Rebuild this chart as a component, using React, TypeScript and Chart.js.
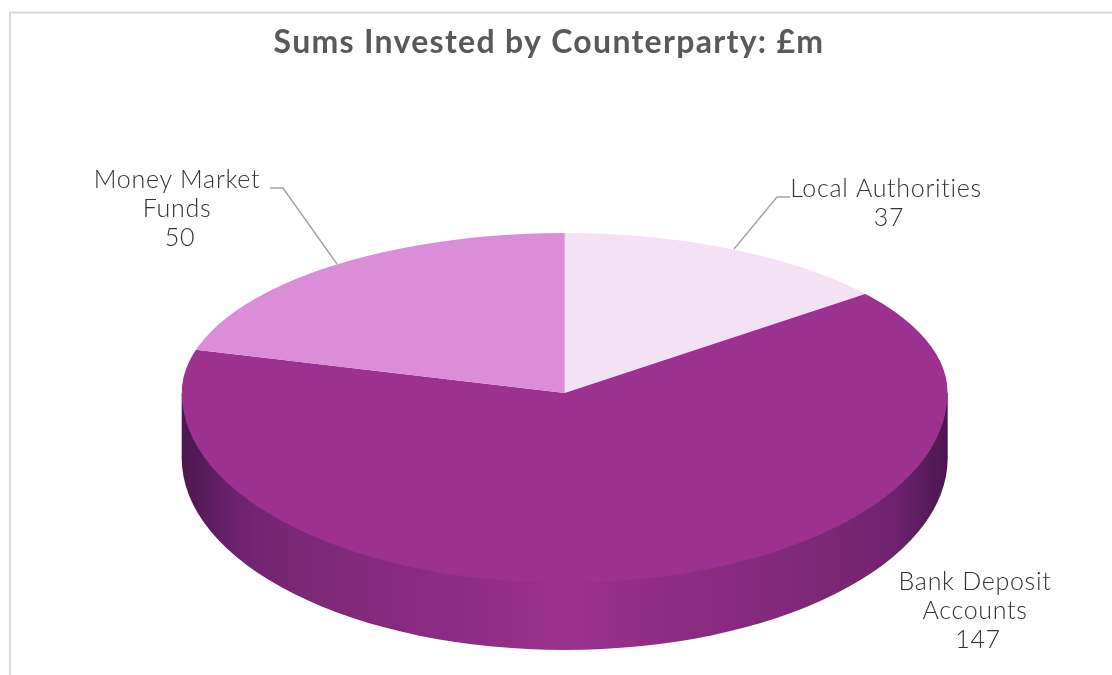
import React, { useEffect, useRef } from "react";
import { Chart, registerables } from "chart.js";

Chart.register(...registerables);

// Investment totals in £m, clockwise from twelve o'clock.
const categories = ["Local Authorities", "Bank Deposit Accounts", "Money Market Funds"];
const investedMillions = [37, 147, 50];
const sliceColours = ["#F5E1F4", "#9C3190", "#DC8DD8"];

// Category names as they wrap inside their labels.
const labelLines = [["Local Authorities"], ["Bank Deposit", "Accounts"], ["Money Market", "Funds"]];
const labelCentres = [
  { x: 886, y: 197 },
  { x: 975, y: 590 },
  { x: 177, y: 188 },
];
// Leader polylines; the bank slice label sits next to its slice and has none.
const leaders = [
  [[790, 197], [777, 197], [734, 249]],
  [],
  [[270, 188], [283, 188], [337, 264]],
];

const TITLE = "Sums Invested by Counterparty: £m";
const WIDTH = 1112;
const HEIGHT = 675;

// Disc projection: the far half of the rim is foreshortened against the near half.
const DISC = { cx: 564.7, cy: 393, rx: 383, farRy: 160, nearRy: 190, rayRy: 193.6, depth: 65, wallRy: 192 };

const wallStops: [number, string][] = [
  [0, "#4D1650"],
  [0.02, "#541A58"],
  [0.07, "#6E2270"],
  [0.115, "#752472"],
  [0.16, "#7C2877"],
  [0.29, "#882A80"],
  [0.42, "#932D89"],
  [0.5, "#9C3190"],
  [0.58, "#932D89"],
  [0.71, "#882A80"],
  [0.84, "#7C2877"],
  [0.885, "#752472"],
  [0.93, "#6E2270"],
  [0.98, "#541A58"],
  [1, "#4D1650"],
];

const bodyFont = "Lato";

const tiltedPie = {
  id: "tiltedPie",
  beforeDraw(chart: any) {
    const { ctx } = chart;
    // Chart frame: only its top and left edges fall inside the canvas.
    ctx.save();
    ctx.strokeStyle = "#D9D9D9";
    ctx.lineWidth = 2;
    ctx.beginPath();
    ctx.moveTo(10, HEIGHT);
    ctx.lineTo(10, 12.5);
    ctx.lineTo(WIDTH, 12.5);
    ctx.stroke();
    ctx.restore();
    // Tracking for the title, which the library draws next.
    ctx.letterSpacing = "1.3px";
  },
  beforeDatasetsDraw(chart: any) {
    const { ctx } = chart;
    ctx.letterSpacing = "0px";
    const { cx, cy, rx, farRy, nearRy, rayRy, depth, wallRy } = DISC;
    const left = cx - rx;
    const right = cx + rx;

    // Side wall of the disc, shaded from the rim towards the front. It runs on
    // under the top face so that no pale seam shows along the near rim.
    const shade = ctx.createLinearGradient(left, 0, right, 0);
    wallStops.forEach(([at, colour]) => shade.addColorStop(at, colour));
    ctx.save();
    ctx.fillStyle = shade;
    ctx.beginPath();
    ctx.moveTo(left, cy);
    ctx.lineTo(left, cy + depth);
    ctx.ellipse(cx, cy + depth, rx, wallRy, 0, Math.PI, 0, true);
    ctx.lineTo(right, cy);
    ctx.closePath();
    ctx.fill();
    ctx.restore();

    // Top face: the library's arcs are squashed into an ellipse and trimmed to the rim.
    const arc = chart.getDatasetMeta(0).data[0];
    const R = arc.outerRadius;
    ctx.save();
    ctx.beginPath();
    ctx.ellipse(cx, cy, rx, farRy, 0, Math.PI, 2 * Math.PI, false);
    ctx.ellipse(cx, cy, rx, nearRy, 0, 0, Math.PI, false);
    ctx.closePath();
    ctx.clip();
    ctx.translate(cx, cy);
    ctx.scale(rx / R, rayRy / R);
    ctx.translate(-arc.x, -arc.y);
  },
  afterDatasetsDraw(chart: any) {
    chart.ctx.restore();
  },
  afterDraw(chart: any) {
    const { ctx } = chart;
    ctx.save();
    ctx.strokeStyle = "#A6A6A6";
    ctx.lineWidth = 1.5;
    leaders.forEach((pts) => {
      if (!pts.length) return;
      ctx.beginPath();
      pts.forEach(([x, y], i) => (i ? ctx.lineTo(x, y) : ctx.moveTo(x, y)));
      ctx.stroke();
    });
    ctx.fillStyle = "#333333";
    ctx.font = `300 25px ${bodyFont}`;
    ctx.letterSpacing = "0.7px";
    ctx.textAlign = "center";
    ctx.textBaseline = "alphabetic";
    categories.forEach((_, i) => {
      const names = labelLines[i];
      const { x, y } = labelCentres[i];
      names.forEach((row, r) => ctx.fillText(row, x, y + r * 29));
      // The value row sits slightly right of the name rows.
      ctx.fillText(String(investedMillions[i]), x + 3, y + names.length * 29);
    });
    ctx.restore();
  },
};

export default function App() {
  const canvasRef = useRef<HTMLCanvasElement>(null);

  useEffect(() => {
    const chart = new Chart(canvasRef.current!, {
      type: "pie",
      data: {
        labels: categories,
        datasets: [
          {
            data: investedMillions,
            backgroundColor: sliceColours,
            borderWidth: 0,
            clip: false,
          } as any,
        ],
      },
      plugins: [tiltedPie],
      options: {
        responsive: false,
        animation: false,
        // Right padding centres the title over the frame, which runs past the canvas edge.
        layout: { padding: { right: 14, top: 6 } },
        plugins: {
          legend: { display: false },
          tooltip: { enabled: false },
          title: {
            display: true,
            text: TITLE,
            color: "#595959",
            font: { family: bodyFont, size: 32, weight: "bold" },
            padding: { top: 17, bottom: 8 },
          },
        },
      },
    });
    return () => chart.destroy();
  }, []);

  return (
    <div style={{ position: "absolute", left: 0, top: 0, width: WIDTH, height: HEIGHT, overflow: "hidden", background: "#fff" }}>
      <canvas ref={canvasRef} width={WIDTH} height={HEIGHT} style={{ display: "block" }} />
    </div>
  );
}
